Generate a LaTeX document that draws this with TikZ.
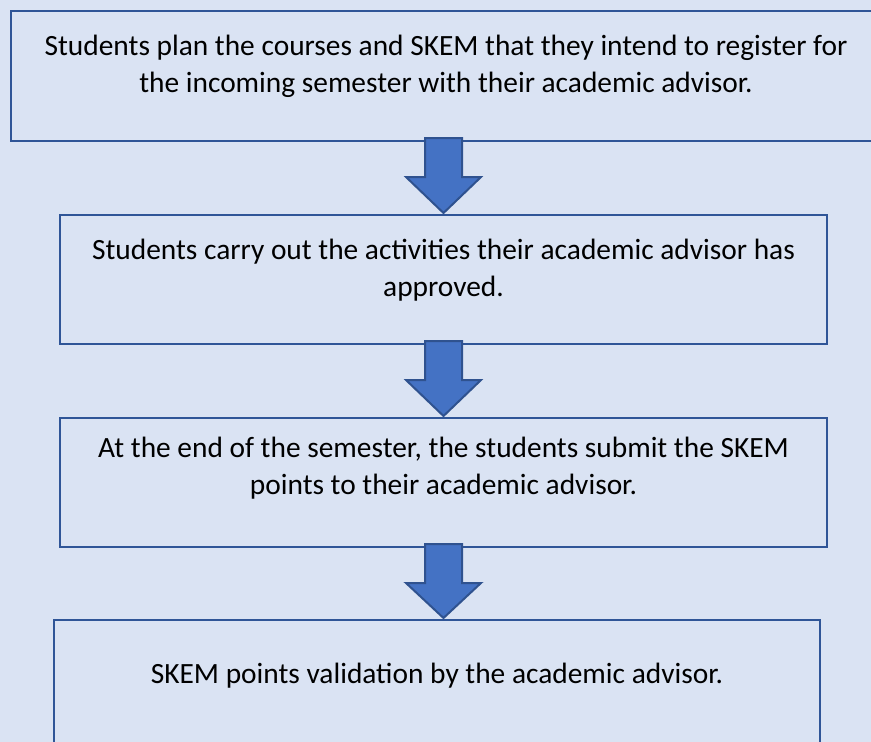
\documentclass[tikz,border=0pt]{standalone}
\usepackage{fontspec}
\setmainfont{Carlito}
\usetikzlibrary{positioning,calc}

\definecolor{pageBlue}{HTML}{DAE3F3}
\definecolor{boxBlue}{HTML}{2F5597}
\definecolor{arrowBlue}{HTML}{4472C4}
\definecolor{arrowEdge}{HTML}{2F528F}

\begin{document}
\begin{tikzpicture}[x=1pt, y=-1pt]
\tikzset{
    stepBox/.style={rectangle, draw=boxBlue, line width=2.5pt, inner sep=0pt, outer sep=0pt},
    stepText/.style={anchor=base, align=center, inner sep=0pt, font=\fontsize{29.4}{37}\selectfont},
    blockArrow/.style={fill=arrowBlue, draw=arrowEdge, line width=2pt, line join=miter}
}

\useasboundingbox[fill=pageBlue] (0,0) rectangle (871,742);
\clip (0,0) rectangle (871,742);

\node[stepBox, minimum width=870pt, minimum height=130pt] (plan) at (446,76) {};
\node[stepBox, minimum width=767pt, minimum height=129pt] (carry) at (443.5,279.5) {};
\node[stepBox, minimum width=767pt, minimum height=129pt] (submit) at (443.5,482.5) {};
\node[stepBox, minimum width=766pt, minimum height=140pt] (validate) at (437,690) {};

% texts sit on the baseline of their last line
\node[stepText] (planText) at ($(plan.north)+(0,81)$) {Students plan the courses and SKEM that they intend to register for\\the incoming semester with their academic advisor.};
\node[stepText] (carryText) at ($(carry.north)+(0,81)$) {Students carry out the activities their academic advisor has\\approved.};
\node[stepText] (submitText) at ($(submit.north)+(0,76)$) {At the end of the semester, the students submit the SKEM\\points to their academic advisor.};
\node[stepText] (validateText) at ($(validate.north)+(0,63)$) {SKEM points validation by the academic advisor.};

% block arrows between the steps
\foreach \a/\b in {plan/carry, carry/submit, submit/validate}
    \draw[blockArrow] ($(\a.south -| carry.north)+(-18.5,-3)$) -- ++(0,39) -- ++(-19,0)
        -- ($(\b.north -| carry.north)+(0,-2)$) -- ($(\a.south -| carry.north)+(37.5,36)$)
        -- ++(-19,0) -- ($(\a.south -| carry.north)+(18.5,-3)$) -- cycle;

\end{tikzpicture}
\end{document}
